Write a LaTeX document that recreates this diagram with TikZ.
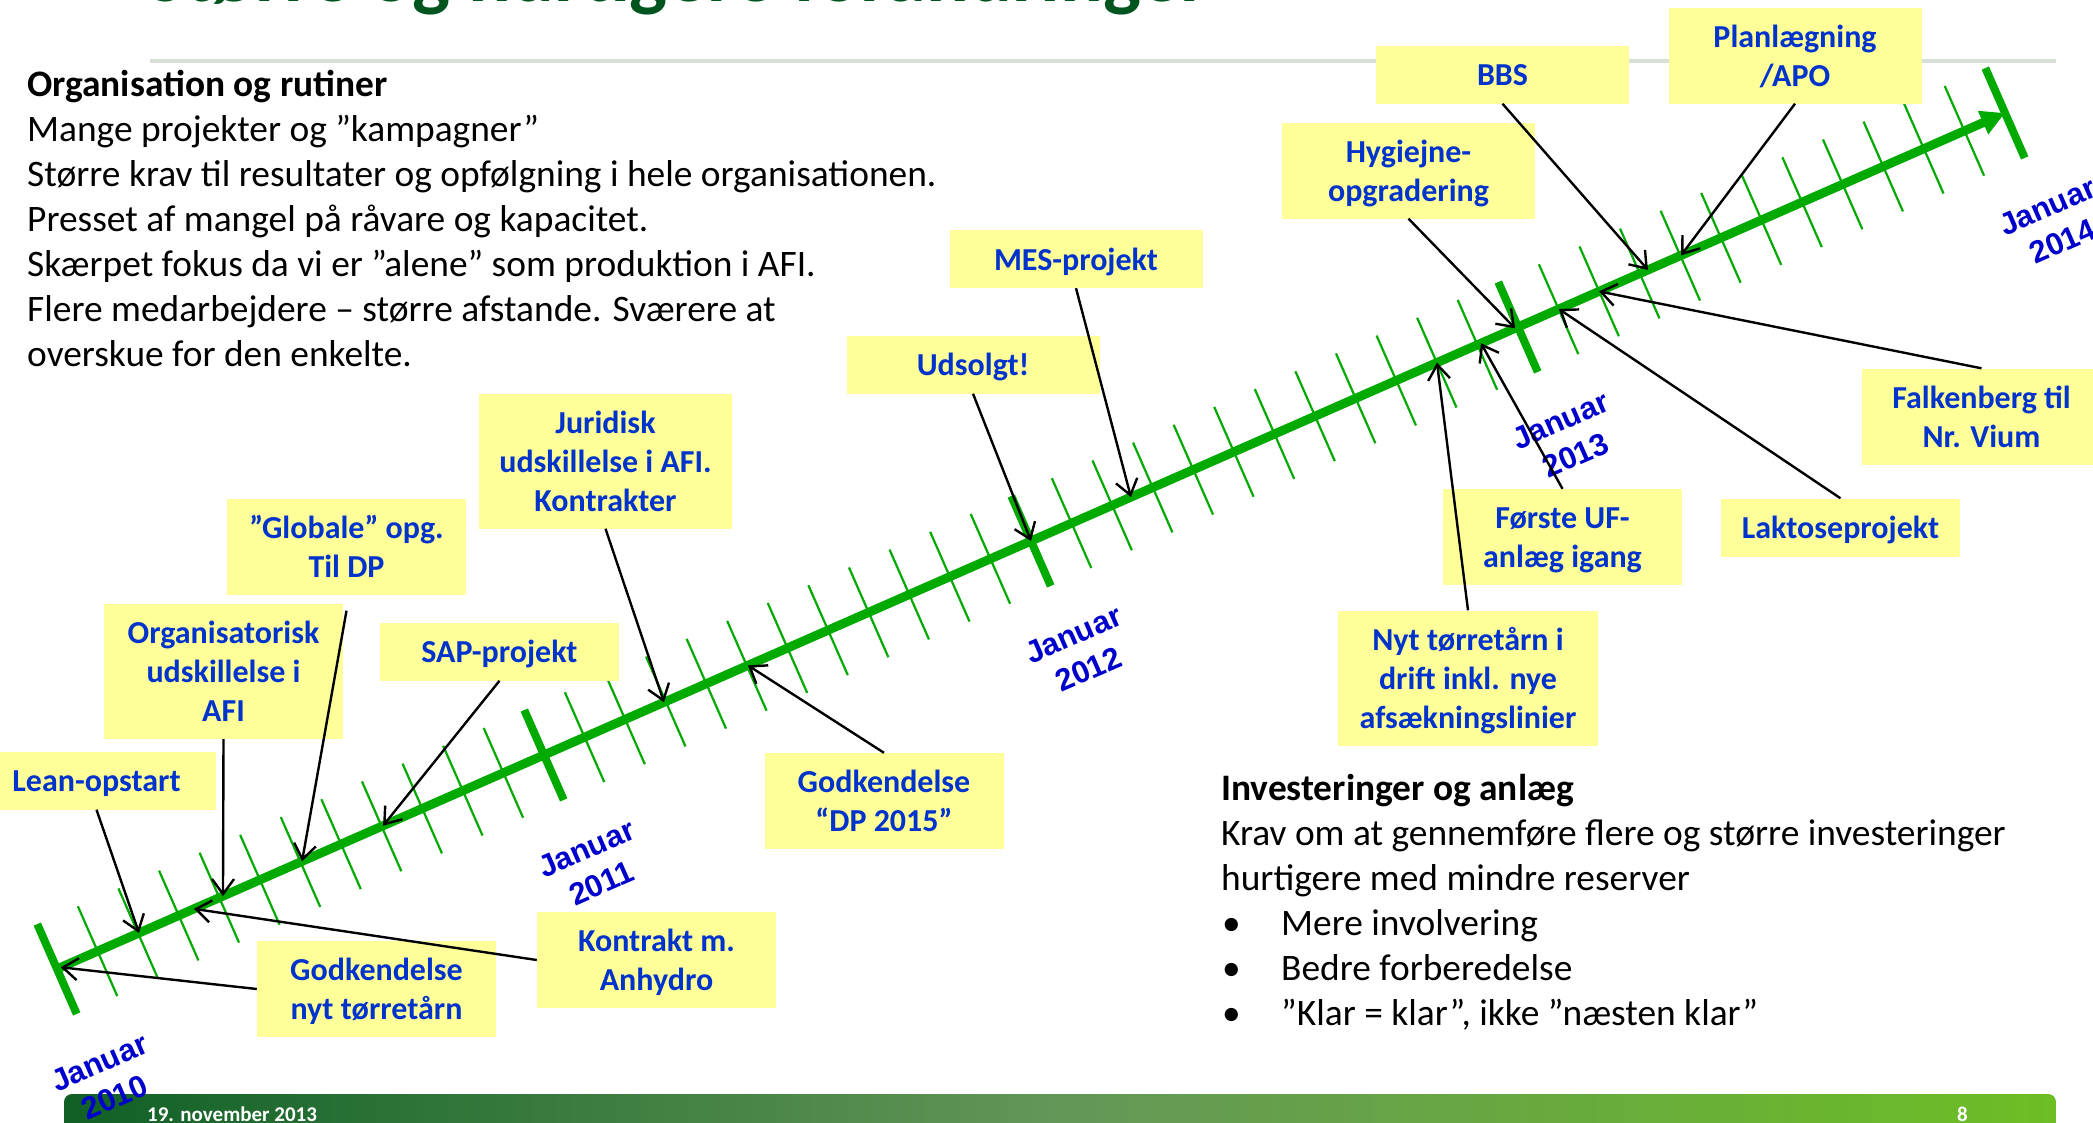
\documentclass[tikz,border=0pt]{standalone}
\usepackage{fontspec}
\setmainfont{Carlito}
\newfontfamily\arialfont{Liberation Sans}
\usetikzlibrary{calc,arrows.meta}
\definecolor{axisgreen}{RGB}{0,170,0}
\definecolor{boxyellow}{RGB}{255,255,153}
\definecolor{boxblue}{RGB}{0,51,204}
\definecolor{janblue}{RGB}{0,0,204}
\definecolor{titlegreen}{RGB}{0,85,30}
\definecolor{rulegray}{RGB}{214,224,214}
\definecolor{footL}{RGB}{16,96,38}
\definecolor{footM}{RGB}{100,150,88}
\definecolor{footR}{RGB}{108,190,36}
\newcommand{\bxs}{\rule[-8pt]{0pt}{38pt}}
\tikzset{
  box/.style={fill=boxyellow, text=boxblue, font=\fontsize{32}{39}\selectfont\bfseries,
    align=center, inner sep=0pt, minimum width=239pt},
  boxw/.style={box, minimum width=253pt},
  h1/.style={minimum height=58pt},
  h2/.style={minimum height=96pt},
  h3/.style={minimum height=135pt},
  conn/.style={draw=black, line width=2.4pt, -{Straight Barb[length=15pt,width=22pt]}},
  monthtick/.style={draw=axisgreen, line width=2.2pt},
  yeartick/.style={draw=axisgreen, line width=8pt},
  axisline/.style={draw=axisgreen, line width=9pt, -{Triangle[length=24pt,width=24pt]}},
  janlbl/.style={font=\arialfont\bfseries\fontsize{31}{38}\selectfont, text=janblue,
    rotate=23.7, align=center, inner sep=0pt},
  bodytxt/.style={anchor=base west, inner sep=0pt, font=\fontsize{37.4}{45}\selectfont},
  bodybold/.style={bodytxt, font=\fontsize{37.4}{45}\selectfont\bfseries},
  foottxt/.style={anchor=base west, inner sep=0pt, text=white, font=\fontsize{21}{25}\selectfont\bfseries}
}
\begin{document}
\begin{tikzpicture}[x=1pt,y=-1pt]
\useasboundingbox (0,0) rectangle (2093,1122);
\fill[white] (0,0) rectangle (2093,1122);

% title (cut off at top) and rule
\node[anchor=base west, inner sep=0pt, text=titlegreen, font=\fontsize{80}{96}\selectfont\bfseries] (title) at (147,1) {Større og hurtigere forandringer};
\draw[rulegray, line width=3.5pt] (150,61) -- (2056,61);

% footer
\shade[left color=footL, right color=footR, middle color=footM, rounded corners=8pt] (64,1094) rectangle (2056,1150);
\node[foottxt] (fdate) at (147,1121) {19. november 2013};
\node[foottxt] (fpage) at (1957,1121) {8};

% timeline
\coordinate (Y0) at (57,969);
\coordinate (Y4) at (2005,113);
\foreach \m in {1,...,47} {
  \draw[monthtick] ($(Y0)!\m/48!(Y4)$) +(-19.7,-44.9) -- +(19.7,44.9);
}
\foreach \y in {0,...,4} {
  \draw[yeartick] ($(Y0)!\y/4!(Y4)$) +(-19.7,-44.9) -- +(19.7,44.9);
}
\draw[axisline] (Y0) -- (Y4);
\foreach \y/\yr in {0/2010,1/2011,2/2012,3/2013,4/2014} {
  \node[janlbl] (jan\yr) at ($(Y0)!\y/4!(Y4) + (50,111)$) {Januar\\\yr};
}

% arrow targets on the axis
\coordinate (tStart) at ($(Y0)!0.002!(Y4)$);
\coordinate (tLean) at ($(Y0)!0.0421!(Y4)$);
\coordinate (tKontr) at ($(Y0)!0.0703!(Y4)$);
\coordinate (tOrg) at ($(Y0)!0.0852!(Y4)$);
\coordinate (tGlob) at ($(Y0)!0.1258!(Y4)$);
\coordinate (tSap) at ($(Y0)!0.1674!(Y4)$);
\coordinate (tJur) at ($(Y0)!0.3116!(Y4)$);
\coordinate (tDp) at ($(Y0)!0.3547!(Y4)$);
\coordinate (tUds) at ($(Y0)!0.5!(Y4)$);
\coordinate (tMes) at ($(Y0)!0.5513!(Y4)$);
\coordinate (tNyt) at ($(Y0)!0.7084!(Y4)$);
\coordinate (tUf) at ($(Y0)!0.7310!(Y4)$);
\coordinate (tHyg) at ($(Y0)!0.7485!(Y4)$);
\coordinate (tLakt) at ($(Y0)!0.7710!(Y4)$);
\coordinate (tFalk) at ($(Y0)!0.7916!(Y4)$);
\coordinate (tBbs) at ($(Y0)!0.8167!(Y4)$);
\coordinate (tPlan) at ($(Y0)!0.8337!(Y4)$);

% boxes
\node[box,h1] (lean) at (96.5,780.5) {\bxs Lean-opstart};
\node[box,h3] (org) at (223.5,671.5) {\bxs Organisatorisk\\udskillelse i\\AFI\bxs};
\node[box,h2] (glob) at (346.5,546.5) {\bxs ”Globale” opg.\\Til DP\bxs};
\node[box,h1] (sap) at (499.5,651.5) {\bxs SAP-projekt};
\node[box,h2] (godk) at (376.5,989) {\bxs Godkendelse\\nyt tørretårn\bxs};
\node[box,h2] (kontr) at (656.5,960) {\bxs Kontrakt m.\\Anhydro\bxs};
\node[box,h2] (dp) at (884,801) {\bxs Godkendelse\\“DP 2015”\bxs};
\node[boxw,h3] (jur) at (605.5,461) {\bxs Juridisk\\udskillelse i AFI.\\Kontrakter\bxs};
\node[boxw,h1] (uds) at (973,364.5) {\bxs Udsolgt!};
\node[boxw,h1] (mes) at (1076,259) {\bxs MES-projekt};
\node[boxw,h2] (hyg) at (1408.5,170.5) {\bxs Hygiejne-\\opgradering\bxs};
\node[boxw,h1] (bbs) at (1502.5,74.5) {\bxs BBS};
\node[boxw,h2] (plan) at (1795,55.5) {\bxs Planlægning\\/APO\bxs};
\node[box,h2] (falk) at (1981.5,416.5) {\bxs Falkenberg til\\Nr. Vium\bxs};
\node[box,h1] (lakt) at (1840.5,527.5) {\bxs Laktoseprojekt};
\node[box,h2] (uf) at (1562.5,537) {\bxs Første UF-\\anlæg igang\bxs};
\node[box,h3,minimum width=260pt] (nyt) at (1468,678) {\bxs Nyt tørretårn i\\drift inkl. nye\\afsækningslinier\bxs};

% connectors
\draw[conn] (lean.south) -- (tLean);
\draw[conn] (org.south) -- (tOrg);
\draw[conn] ([yshift=-16pt]glob.south) -- (tGlob);
\draw[conn] (sap.south) -- (tSap);
\draw[conn] (godk.west) -- (tStart);
\draw[conn] (kontr.west) -- (tKontr);
\draw[conn] (jur.south) -- (tJur);
\draw[conn] (dp.north) -- (tDp);
\draw[conn] (uds.south) -- (tUds);
\draw[conn] (mes.south) -- (tMes);
\draw[conn] (hyg.south) -- (tHyg);
\draw[conn] (bbs.south) -- (tBbs);
\draw[conn] (plan.south) -- (tPlan);
\draw[conn] (falk.north) -- (tFalk);
\draw[conn] (lakt.north) -- (tLakt);
\draw[conn] (uf.north) -- (tUf);
\draw[conn] (nyt.north) -- (tNyt);

% text blocks
\node[bodybold] (o1) at (27,96) {Organisation og rutiner};
\node[bodytxt] (o2) at (27,141) {Mange projekter og ”kampagner”};
\node[bodytxt] (o3) at (27,186) {Større krav til resultater og opfølgning i hele organisationen.};
\node[bodytxt] (o4) at (27,231) {Presset af mangel på råvare og kapacitet.};
\node[bodytxt] (o5) at (27,276) {Skærpet fokus da vi er ”alene” som produktion i AFI.};
\node[bodytxt] (o6) at (27,321) {Flere medarbejdere – større afstande. Sværere at};
\node[bodytxt] (o7) at (27,366) {overskue for den enkelte.};

\node[bodybold] (i1) at (1221,800) {Investeringer og anlæg};
\node[bodytxt] (i2) at (1221,845) {Krav om at gennemføre flere og større investeringer};
\node[bodytxt] (i3) at (1221,890) {hurtigere med mindre reserver};
\node[bodytxt] (b1) at (1222,935) {•};
\node[bodytxt] (i4) at (1281,935) {Mere involvering};
\node[bodytxt] (b2) at (1222,980) {•};
\node[bodytxt] (i5) at (1281,980) {Bedre forberedelse};
\node[bodytxt] (b3) at (1222,1025) {•};
\node[bodytxt] (i6) at (1281,1025) {”Klar = klar”, ikke ”næsten klar”};
\end{tikzpicture}
\end{document}
